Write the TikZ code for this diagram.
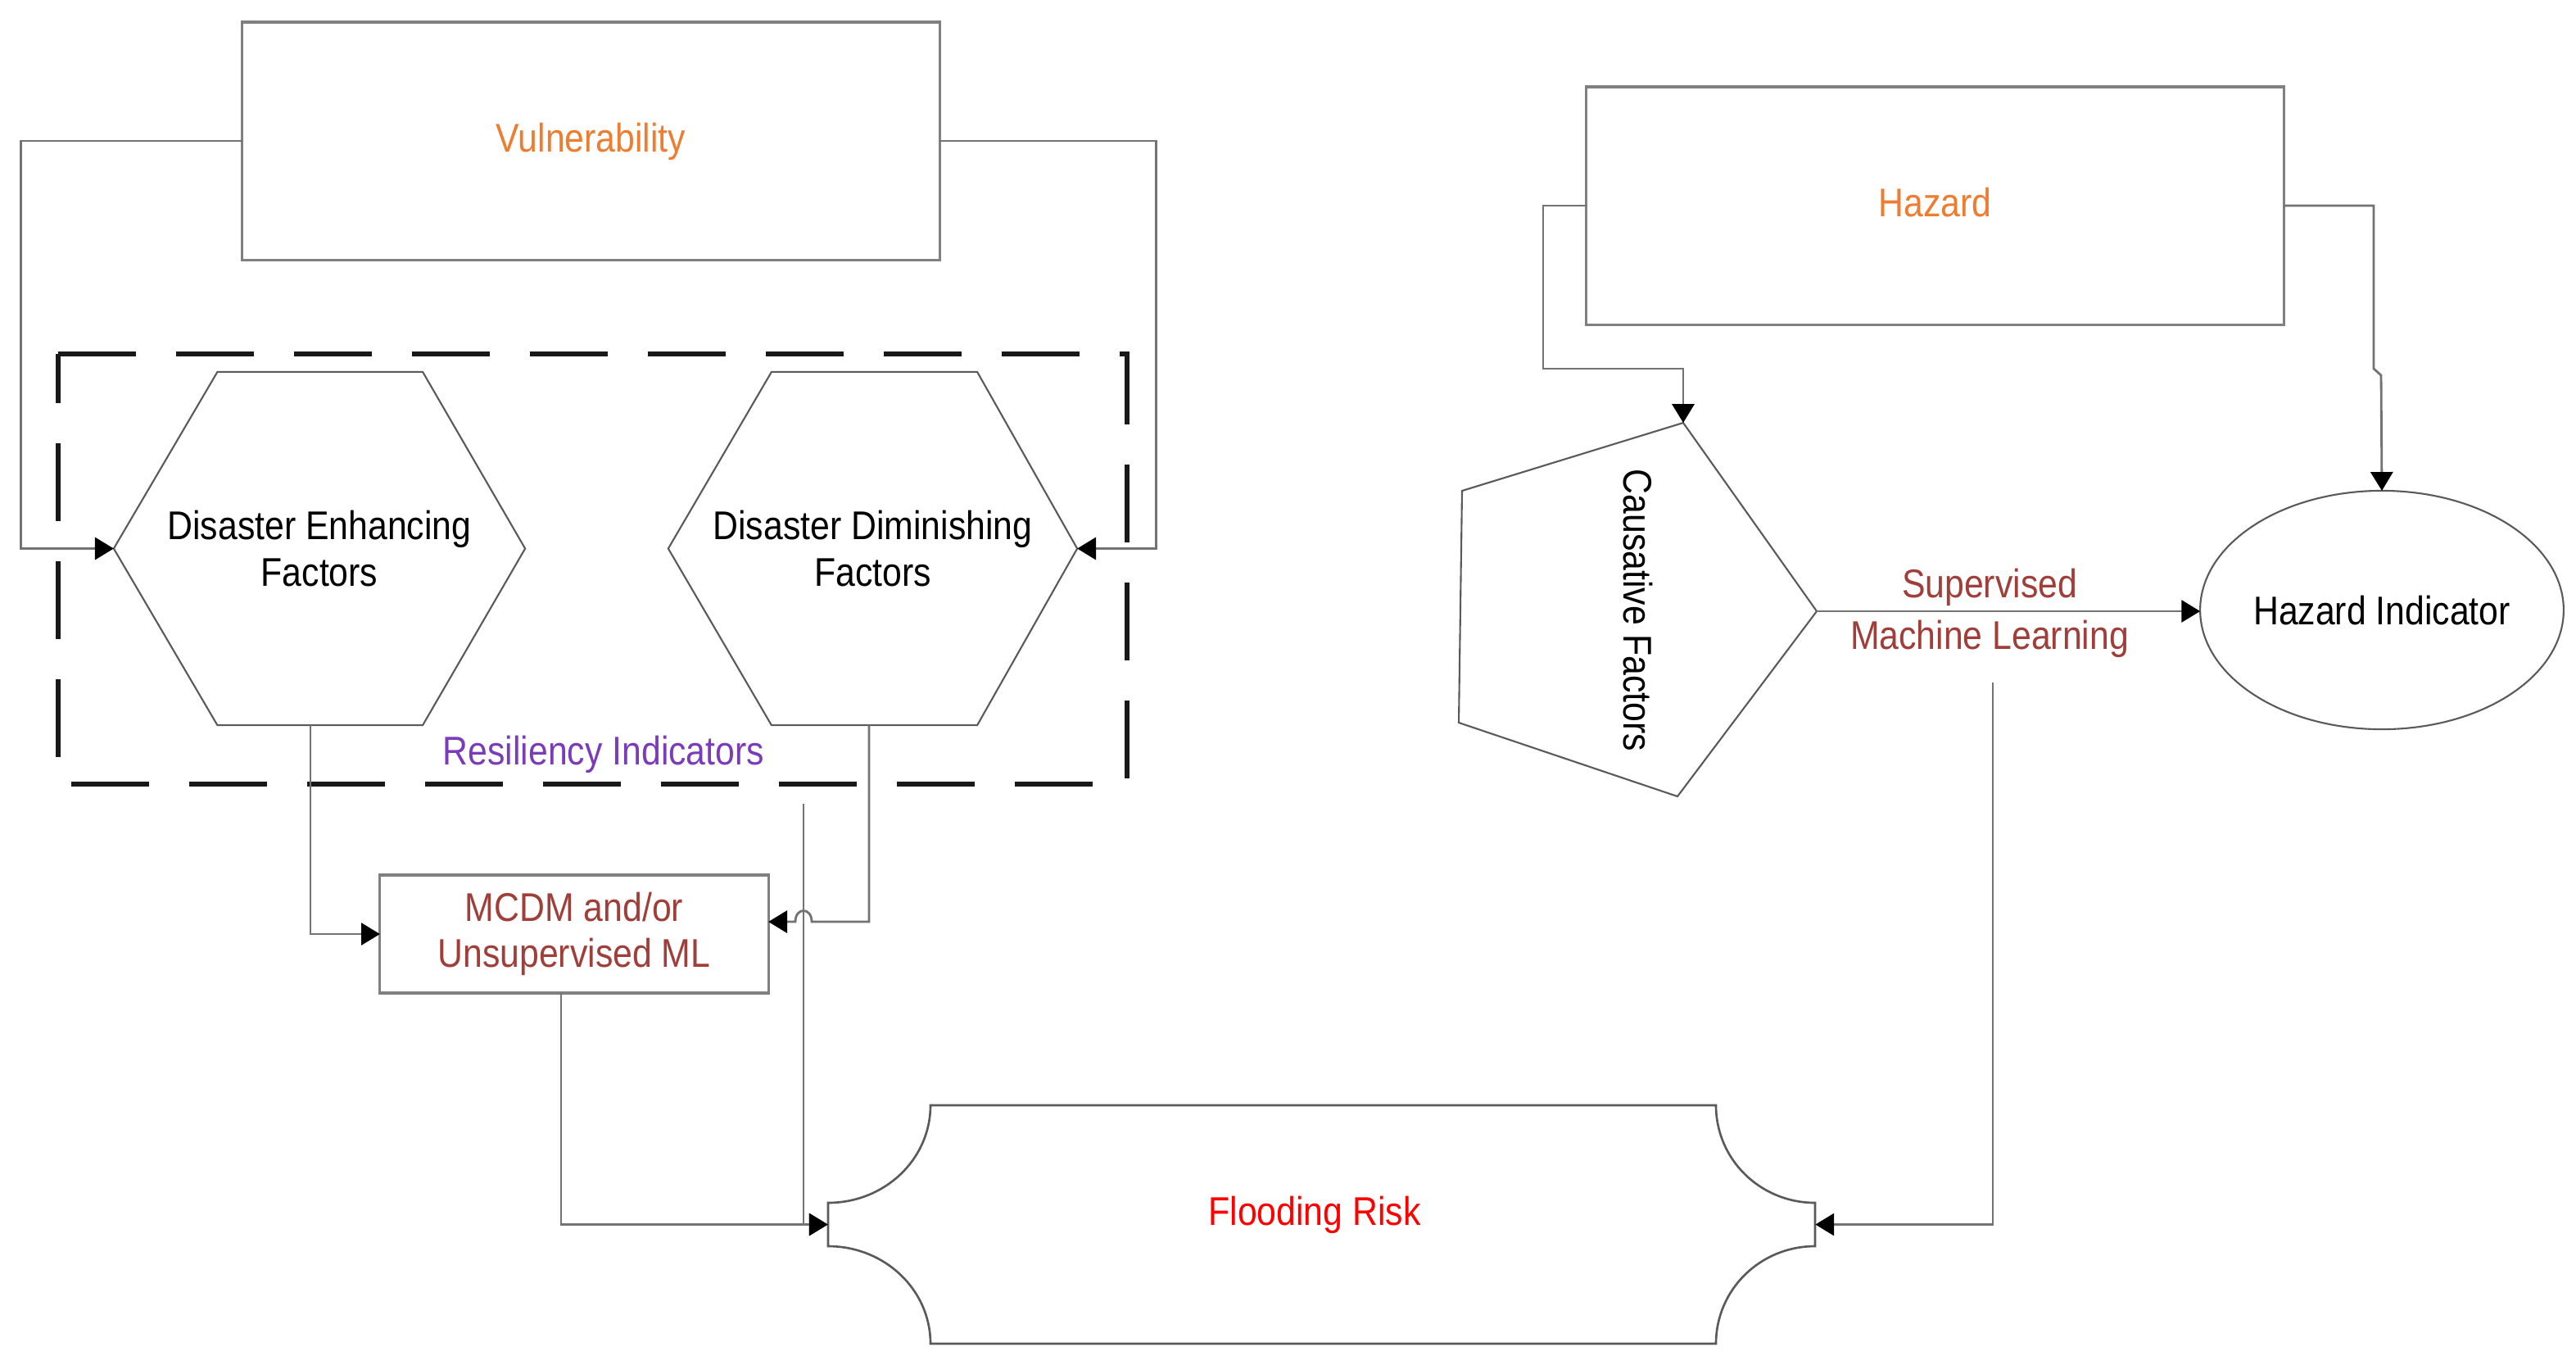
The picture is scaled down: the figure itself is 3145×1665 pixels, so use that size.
\documentclass[tikz,border=0pt]{standalone}
\usepackage{fontspec}
\setmainfont{Liberation Sans}[FakeStretch=0.875]
\usetikzlibrary{arrows.meta,shapes.geometric}
\definecolor{vorange}{RGB}{237,125,49}
\definecolor{rpurple}{RGB}{122,60,184}
\definecolor{mred}{RGB}{160,62,58}
\definecolor{fred}{RGB}{255,0,0}
\definecolor{boxgray}{RGB}{128,128,128}
\definecolor{linegray}{RGB}{115,115,115}
\definecolor{shapegray}{RGB}{90,90,90}
\definecolor{dashblack}{RGB}{25,25,25}
\begin{document}
\begin{tikzpicture}[x=0.01cm,y=-0.01cm,
  every node/.style={font=\fontsize{13.9pt}{16pt}\selectfont, inner sep=0pt, outer sep=0pt},
  mainbox/.style={draw=boxgray, line width=0.9pt, rectangle},
  hexnode/.style={rectangle, minimum height=4.31cm, align=center},
  shapeline/.style={draw=shapegray, line width=0.6pt},
  conn/.style={draw=linegray, line width=0.8pt},
  arr/.style={conn, -{Triangle[width=7.7pt,length=6.5pt,color=black]}},
  dashbox/.style={draw=dashblack, line width=1.7pt, dash pattern=on 0.95cm off 0.49cm}
]
\useasboundingbox (0,0) rectangle (3145,1665);
\fill[white] (0,0) rectangle (3145,1665);

% Resiliency group
\node[minimum width=13.05cm, minimum height=5.25cm] (resil) at (723.5,694.5) {};
\draw[dashbox] (resil.north west) -- (resil.north east) -- (resil.south east) -- (resil.south west) -- cycle;
\node[anchor=base, text=rpurple] (ri) at (737,933) {Resiliency Indicators};

% Vulnerability
\node[mainbox, minimum width=8.51cm, minimum height=2.90cm, text=vorange, text height=0.62cm, text depth=0.36cm] (vuln) at (721.5,172) {Vulnerability};

% Hexagons
\node[hexnode, minimum width=5.02cm] (hex1) at (390,669.5) {Disaster Enhancing\\Factors};
\draw[shapeline] (hex1.west) -- ([xshift=1.265cm]hex1.north west) -- ([xshift=-1.25cm]hex1.north east) -- (hex1.east) -- ([xshift=-1.25cm]hex1.south east) -- ([xshift=1.265cm]hex1.south west) -- cycle;
\node[hexnode, minimum width=4.99cm] (hex2) at (1065.5,669.5) {Disaster Diminishing\\Factors};
\draw[shapeline] (hex2.west) -- ([xshift=1.26cm]hex2.north west) -- ([xshift=-1.22cm]hex2.north east) -- (hex2.east) -- ([xshift=-1.22cm]hex2.south east) -- ([xshift=1.26cm]hex2.south west) -- cycle;

% MCDM
\node[mainbox, minimum width=4.74cm, minimum height=1.44cm, text=mred, align=center] (mcdm) at (701,1140) {MCDM and/or\\Unsupervised ML};

% Flooding Risk
\draw[shapeline, line width=0.75pt] (1136,1349) -- (2095,1349)
  .. controls (2095,1415) and (2149,1468) .. (2216,1468) -- (2216,1521)
  .. controls (2149,1521) and (2095,1574) .. (2095,1640) -- (1136,1640)
  .. controls (1136,1574) and (1080,1521) .. (1011,1521) -- (1011,1468)
  .. controls (1080,1468) and (1136,1415) .. (1136,1349) -- cycle;
\node[minimum width=12.05cm, minimum height=2.91cm, text=fred, text height=0.40cm, text depth=0.39cm] (flood) at (1613.5,1494.5) {\hspace*{-0.17cm}Flooding Risk};

% Hazard
\node[mainbox, minimum width=8.51cm, minimum height=2.90cm, text=vorange, text height=0.62cm, text depth=0.36cm] (haz) at (2362.5,251) {Hazard};

% Causative factors pentagon
\coordinate (cftop) at (2055,516);
\coordinate (cftip) at (2218,746);
\draw[shapeline] (cftop) -- (cftip) -- (2048,972) -- (1781,882) -- (1785,599) -- cycle;
\node[rotate=-90] (cause) at (2000,745) {Causative Factors};

% Hazard indicator
\node[ellipse, draw=shapegray, line width=0.6pt, minimum width=4.34cm, minimum height=2.91cm] (hind) at (2908,744.5) {Hazard Indicator};

% Supervised ML label
\node[align=center, text=mred, font=\fontsize{13.9pt}{17.9pt}\selectfont] (sml) at (2429,748) {Supervised\\Machine Learning};

% Connectors
\draw[arr] (vuln.west) -- ++(-270,0) |- (hex1.west);
\draw[arr] (vuln.east) -- ++(264,0) |- (hex2.east);
\draw[arr] ([xshift=-0.11cm]hex1.south) |- (mcdm.west);
\coordinate (hopR) at (991,1125);
\coordinate (hopL) at (971,1125);
\draw[arr] ([xshift=-0.045cm]hex2.south) |- (hopR) .. controls (991,1107) and (971,1107) .. (hopL) -- (hopL -| mcdm.east);
\coordinate (riskin) at (981,981);
\draw[arr] (riskin) |- (flood.west);
\draw[arr] ([xshift=-0.16cm]mcdm.south) |- (flood.west);
\coordinate (smlout) at (2433,833);
\draw[arr] (smlout) |- (flood.east);
\draw[arr] (haz.west) -- (1884,251) -- (1884,450) -| (cftop);
\draw[arr] (haz.east) -- (2898,251) -- (2898,450) -- (2907,458) -- (hind.north);
\draw[arr] (cftip) -- (cftip -| hind.west);
\end{tikzpicture}
\end{document}
